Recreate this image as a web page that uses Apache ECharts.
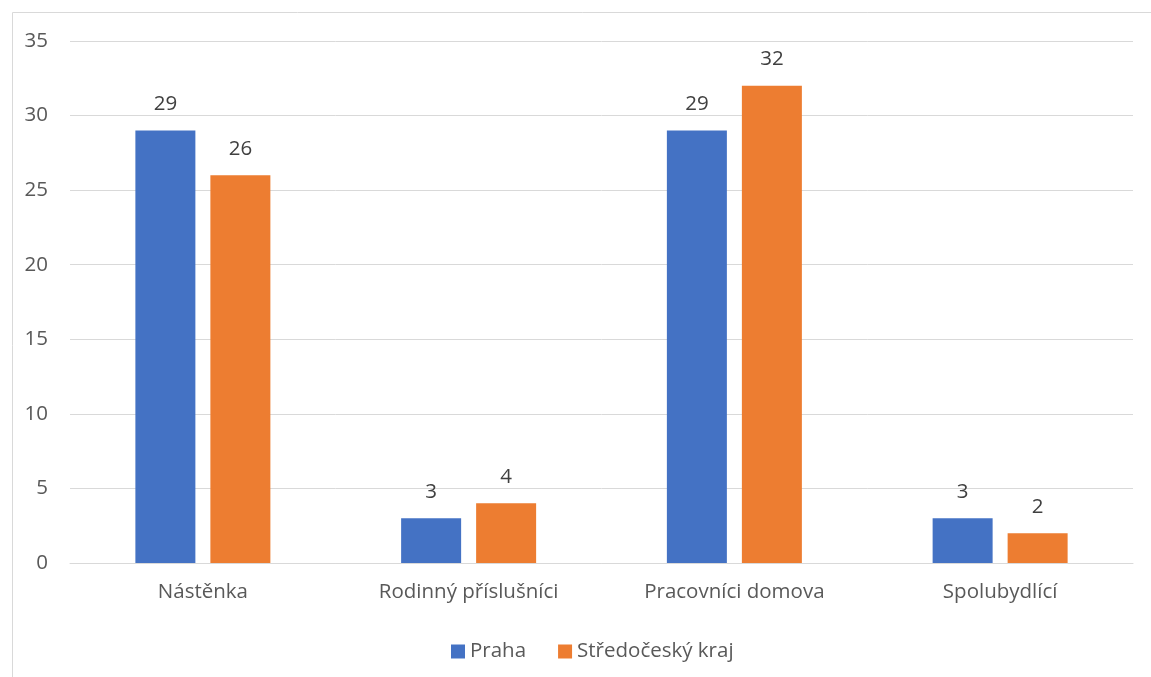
<!DOCTYPE html>
<html><head><meta charset="utf-8">
<script src="https://cdn.jsdelivr.net/npm/echarts@6/dist/echarts.min.js"></script>
<style>html,body{margin:0;padding:0;background:#fff}#c{width:1151px;height:677px}</style>
</head><body><div id="c"></div>
<script>
const categories = ['Nástěnka', 'Rodinný příslušníci', 'Pracovníci domova', 'Spolubydlící'];
const prahaValues = [29, 3, 29, 3];
const stredoceskyValues = [26, 4, 32, 2];
const seriesNames = ['Praha', 'Středočeský kraj'];
const yTicks = [0, 5, 10, 15, 20, 25, 30, 35];

const FONT = '"Open Sans", "Noto Sans", sans-serif';
const FS = 20.5;
const chart = echarts.init(document.getElementById('c'), null, {renderer: 'canvas'});
chart.setOption({
  animation: false,
  textStyle: {fontFamily: FONT},
  graphic: [{
    type: 'rect', left: 10, top: 10, z: -1,
    shape: {width: 1160, height: 700},
    style: {fill: 'none', stroke: '#d9d9d9', lineWidth: 1}
  }],
  grid: {left: 70, right: 18, top: 41, bottom: 114, containLabel: false},
  legend: {
    bottom: 10, left: 446, itemWidth: 14, itemHeight: 14, itemGap: 32,
    icon: 'rect',
    textStyle: {fontFamily: FONT, fontSize: FS, color: '#595959'},
    data: seriesNames
  },
  xAxis: {
    type: 'category', data: categories,
    axisLine: {lineStyle: {color: '#d9d9d9', width: 1}},
    axisTick: {show: false},
    axisLabel: {fontFamily: FONT, fontSize: FS, color: '#595959', margin: 19}
  },
  yAxis: {
    type: 'value', min: yTicks[0], max: yTicks[yTicks.length - 1], interval: 5,
    axisLine: {show: false}, axisTick: {show: false},
    splitLine: {lineStyle: {color: '#d9d9d9', width: 1}},
    axisLabel: {fontFamily: FONT, fontSize: FS, color: '#595959', margin: 22}
  },
  series: [
    {name: seriesNames[0], type: 'bar', data: prahaValues, barWidth: 60, barGap: '25%',
     itemStyle: {color: '#4472c4'},
     label: {show: true, position: 'top', distance: 16, fontFamily: FONT, fontSize: FS, color: '#404040'}},
    {name: seriesNames[1], type: 'bar', data: stredoceskyValues, barWidth: 60, barGap: '25%',
     itemStyle: {color: '#ed7d31'},
     label: {show: true, position: 'top', distance: 16, fontFamily: FONT, fontSize: FS, color: '#404040'}}
  ]
});
</script></body></html>
